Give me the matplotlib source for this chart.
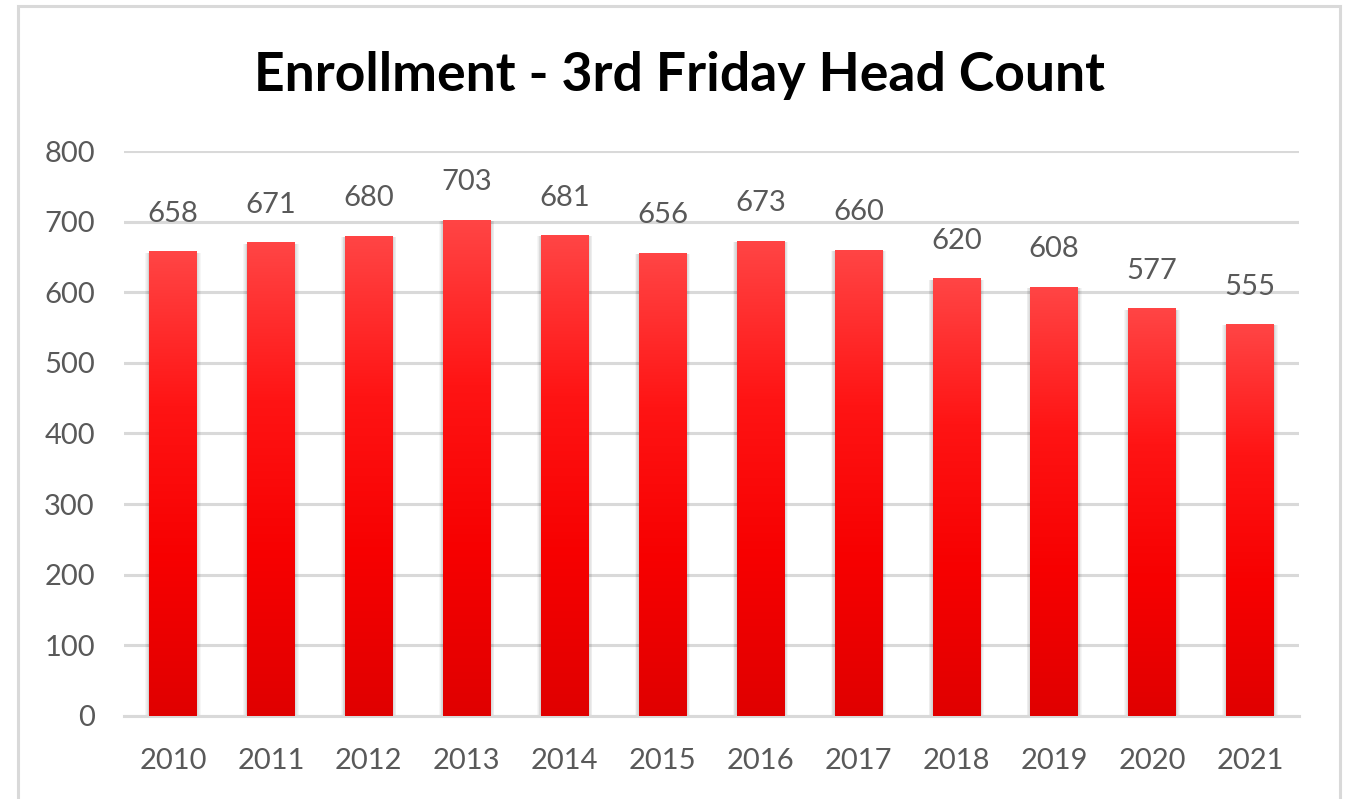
import matplotlib.pyplot as plt
import numpy as np
from matplotlib.colors import LinearSegmentedColormap
from matplotlib.patches import Rectangle

# Data
years = ["2010", "2011", "2012", "2013", "2014", "2015",
         "2016", "2017", "2018", "2019", "2020", "2021"]
head_count = [658, 671, 680, 703, 681, 656, 673, 660, 620, 608, 577, 555]
y_ticks = [0, 100, 200, 300, 400, 500, 600, 700, 800]

plt.rcParams["font.family"] = ["Lato", "DejaVu Sans"]

fig = plt.figure(figsize=(13.45, 7.99), dpi=100)
ax = fig.add_axes([0.0922, 0.1039, 0.8736, 0.7071])

# outer chart border
fig.patches.append(Rectangle((18 / 1345, -0.05), 1322 / 1345, 1.05 - 6 / 799,
                             transform=fig.transFigure, fill=False,
                             edgecolor="#d9d9d9", linewidth=2.2))

x = np.arange(len(years))
width = 0.485
bars = ax.bar(x, head_count, width=width, color="none", zorder=3)

grad = LinearSegmentedColormap.from_list(
    "red_grad", ["#e00000", "#f70000", "#ff1414", "#ff4545"])
gimg = np.linspace(0, 1, 256).reshape(-1, 1)

for b, v in zip(bars, head_count):
    x0 = b.get_x()
    # soft shadow on the sides
    for k in range(1, 6):
        d = 0.008 * k
        ax.add_patch(Rectangle((x0 - d, 0), width + 2 * d, v - 2,
                               facecolor="#000000", alpha=0.035,
                               edgecolor="none", zorder=2))
    im = ax.imshow(gimg, cmap=grad, origin="lower", aspect="auto",
                   extent=(x0, x0 + width, 0, v), zorder=3)
    im.set_clip_path(b)
    ax.annotate(str(v), (b.get_x() + width / 2, v), xytext=(0, 27),
                textcoords="offset points", ha="center", va="center",
                fontsize=21, color="#595959", zorder=4)

ax.set_xlim(-0.5, len(years) - 0.5)
ax.set_ylim(0, 800)
ax.set_yticks(y_ticks)
ax.set_xticks(x)
ax.set_xticklabels(years)
ax.yaxis.grid(True, color="#d9d9d9", linewidth=2.2, zorder=0)
ax.set_axisbelow(True)
for s in ["top", "right", "left"]:
    ax.spines[s].set_visible(False)
ax.spines["bottom"].set_color("#d9d9d9")
ax.spines["bottom"].set_linewidth(2.2)
ax.tick_params(axis="both", length=0, labelsize=21, labelcolor="#595959")
ax.tick_params(axis="x", pad=23)
ax.tick_params(axis="y", pad=21)

fig.text(0.5055, 0.906, "Enrollment - 3rd Friday Head Count", ha="center",
         va="center", fontsize=38.5, fontweight="bold", color="#000000")

fig.savefig("out.png", dpi=100)
